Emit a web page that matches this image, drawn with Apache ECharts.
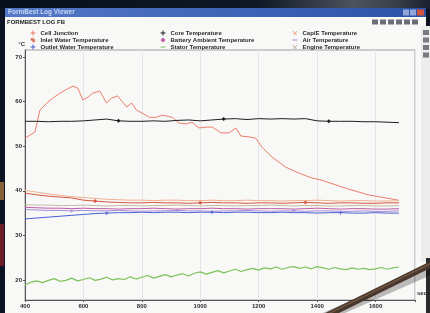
<!DOCTYPE html>
<html>
<head>
<meta charset="utf-8">
<script src="https://cdn.jsdelivr.net/npm/echarts@6/dist/echarts.min.js"></script>
<style>
html,body{margin:0;padding:0;background:#0c1424;}
#c{width:430px;height:313px;filter:blur(0.55px);}
</style>
</head>
<body>
<div id="c"></div>
<script>
// ---- data ----
const xTicks = [400, 600, 800, 1000, 1200, 1400, 1600];
const yTicks = [20, 30, 40, 50, 60, 70];

const time40 = [400,440,480,520,560,600,640,680,720,760,800,840,880,920,960,1000,1040,1080,1120,1160,1200,1240,1280,1320,1360,1400,1440,1480,1520,1560,1600,1640,1680];
const time20 = [400,420,440,460,480,500,520,540,560,580,600,620,640,660,680,700,720,740,760,780,800,820,840,860,880,900,920,940,960,980,1000,1020,1040,1060,1080,1100,1120,1140,1160,1180,1200,1220,1240,1260,1280,1300,1320,1340,1360,1380,1400,1420,1440,1460,1480,1500,1520,1540,1560,1580,1600,1620,1640,1660,1680];

const junctionTime = [400,417,434,451,475,495,519,543,564,581,598,615,632,656,679,696,717,748,765,782,802,826,850,870,904,928,952,972,996,1020,1041,1071,1098,1122,1139,1167,1190,1211,1245,1293,1337,1381,1415,1497,1575,1678];
const junctionTemp = [51.8,52.5,53.2,58.1,59.7,60.8,61.9,62.8,63.5,63.0,60.4,61.0,61.9,62.4,59.7,60.8,61.3,58.8,59.7,58.1,57.4,56.5,56.5,57.0,56.5,55.2,55.0,55.4,54.1,54.3,54.3,53.0,53.0,54.1,52.3,52.1,51.8,49.8,47.6,45.3,44.0,42.9,42.4,40.6,39.1,37.9];

const coreTemp    = [55.6,55.6,55.5,55.6,55.6,55.7,55.9,56.1,55.7,55.6,55.6,55.7,55.6,55.8,55.9,55.7,55.9,56.1,56.2,56.0,56.2,56.1,56.2,56.1,56.2,55.7,55.6,55.6,55.6,55.5,55.5,55.4,55.3];
const inletTemp   = [39.5,39.1,38.8,38.6,38.4,37.9,37.7,37.5,37.4,37.3,37.3,37.4,37.3,37.3,37.2,37.3,37.4,37.3,37.3,37.2,37.3,37.3,37.2,37.3,37.4,37.3,37.2,37.3,37.3,37.2,37.2,37.3,37.3];
const capETemp    = [40.1,39.7,39.3,39.0,38.7,38.5,38.3,38.1,38.0,37.9,37.9,37.8,37.9,37.9,37.8,37.8,37.9,37.8,37.8,37.9,37.8,37.8,37.7,37.8,37.8,37.9,37.8,37.7,37.8,37.8,37.7,37.7,37.8];
const engineTemp  = [36.9,36.8,36.8,36.7,36.7,36.8,36.7,36.6,36.7,36.7,36.6,36.7,36.7,36.8,36.7,36.6,36.7,36.7,36.6,36.7,36.7,36.8,36.7,36.6,36.7,36.7,36.6,36.6,36.7,36.7,36.6,36.6,36.7];
const ambientTemp = [36.3,36.2,36.1,36.1,36.0,36.1,36.0,36.0,35.9,36.0,36.0,36.1,36.0,35.9,36.0,36.0,36.1,36.0,36.0,35.9,36.0,36.0,36.0,35.9,36.0,36.1,36.0,35.9,36.0,36.0,35.9,35.9,36.0];
const airTemp     = [35.8,35.7,35.6,35.6,35.5,35.6,35.5,35.5,35.6,35.5,35.4,35.5,35.5,35.6,35.5,35.5,35.4,35.5,35.5,35.6,35.5,35.4,35.5,35.5,35.4,35.5,35.5,35.4,35.4,35.5,35.4,35.4,35.5];
const outletTemp  = [33.7,33.9,34.1,34.3,34.5,34.7,34.9,35.0,35.1,35.1,35.2,35.1,35.2,35.2,35.1,35.2,35.2,35.1,35.2,35.2,35.1,35.1,35.2,35.1,35.1,35.0,35.1,35.1,35.0,35.0,35.1,35.0,35.0];
const waterTemp   = [18.9,19.5,19.8,19.4,19.9,20.3,19.7,19.9,20.4,19.8,20.1,20.5,19.9,20.2,20.6,20.0,20.3,20.1,20.7,20.2,20.6,21.0,20.4,20.8,21.2,20.7,21.1,21.4,20.9,21.5,21.8,21.3,21.7,22.1,21.6,22.0,22.4,21.9,22.3,22.6,22.2,22.7,22.5,22.9,22.4,22.8,23.0,22.6,22.9,22.5,23.0,22.7,22.4,22.8,22.5,22.3,22.7,22.4,22.6,22.3,22.5,22.8,22.4,22.7,22.9];

const coreMarks = [8, 17, 26];
const inletMarks = [6, 15, 24];
const airMarks = [4, 13, 23];
const outletMarks = [7, 16, 27];

const names = ['Cell Junction','Inlet Water Temperature','Outlet Water Temperature',
               'Core Temperature','Battery Ambient Temperature','Stator Temperature',
               'Cap/E Temperature','Air Temperature','Engine Temperature'];

// ---- build ----
const pair = (ts, vs) => ts.map((t, i) => [t, vs[i]]);
const plusPath = 'path://M0,2h5v1H0z M2,0h1v5H2z';

function lineSeries(name, ts, vs, color, marks, sym, width) {
  return {
    name, type: 'line', data: pair(ts, vs), color,
    symbol: sym || 'diamond',
    symbolSize: (v, p) => (marks && marks.indexOf(p.dataIndex) >= 0 ? 4 : 0),
    showSymbol: true,
    lineStyle: { width: width || 1, color }, itemStyle: { color },
    animation: false, silent: true
  };
}

const series = [
  lineSeries(names[0], junctionTime, junctionTemp, '#ec7d6c', null),
  lineSeries(names[1], time40, inletTemp, '#d4573e', inletMarks, 'diamond'),
  lineSeries(names[2], time40, outletTemp, '#4b5fd2', outletMarks, plusPath),
  lineSeries(names[3], time40, coreTemp, '#1e1e22', coreMarks, 'diamond'),
  lineSeries(names[4], time40, ambientTemp, '#c25aa8', null),
  lineSeries(names[5], time20, waterTemp, '#7cc35a', null, null, 1.2),
  lineSeries(names[6], time40, capETemp, '#f0b090', null),
  lineSeries(names[7], time40, airTemp, '#a58ad8', airMarks, plusPath),
  lineSeries(names[8], time40, engineTemp, '#c8b8a8', null)
];

const legendIcons = ['path://M0,2h5v1H0z M2,0h1v5H2z','path://M2,0h1v5H2z M0,2h5v1H0z M0.5,0.5l4,4l-0.7,0.7l-4,-4z','path://M0,2h5v1H0z M2,0h1v5H2z',
                     'path://M0,2h5v1H0z M2,0h1v5H2z','path://M2.5,0L5,2.5L2.5,5L0,2.5z','path://M0,2h5v1H0z',
                     'path://M0.5,0.5l4,4l-0.7,0.7l-4,-4z M4.5,0.5l0.7,0.7l-4,4l-0.7,-0.7z','path://M0,2h5v1H0z','path://M0.5,0.5l4,4l-0.7,0.7l-4,-4z M4.5,0.5l0.7,0.7l-4,4l-0.7,-0.7z'];

function legendCol(idx, left) {
  return {
    orient: 'vertical', left, top: 29.5, itemGap: 0, itemWidth: 5, itemHeight: 5,
    selectedMode: false, padding: 0,
    data: idx.map(i => ({ name: names[i], icon: legendIcons[i] })),
    textStyle: { fontSize: 6, fontWeight: 'bold', color: '#2a2a2e', lineHeight: 7, padding: [0,0,0,0], fontFamily: 'Liberation Sans' },
    itemStyle: { borderWidth: 0 }
  };
}

const graphics = [
  { type: 'rect', z: -10, shape: { x: 0, y: 0, width: 430, height: 9 },
    style: { fill: new echarts.graphic.LinearGradient(0, 0, 1, 0, [
      { offset: 0, color: '#070f1b' }, { offset: 0.6, color: '#0f1826' },
      { offset: 0.82, color: '#4d525c' }, { offset: 0.92, color: '#3a3f48' }, { offset: 1, color: '#1a2030' }]) } },
  { type: 'rect', z: -10, shape: { x: 5, y: 8, width: 421, height: 310 }, style: { fill: '#f8f8f7' } },
  { type: 'rect', z: -9, shape: { x: 5, y: 8, width: 421, height: 9 },
    style: { fill: new echarts.graphic.LinearGradient(0, 0, 1, 0, [
      { offset: 0, color: '#5479c8' }, { offset: 1, color: '#2c52a8' }]) } },
  { type: 'text', z: -8, left: 8, top: 9, style: { text: 'FormBest Log Viewer', fontSize: 6.5, fontWeight: 'bold', fill: '#c9d8f4', fontFamily: 'Liberation Sans' } },
  { type: 'rect', z: -8, shape: { x: 403, y: 9.5, width: 6, height: 6 }, style: { fill: '#8ea6d8' } },
  { type: 'rect', z: -8, shape: { x: 410, y: 9.5, width: 6, height: 6 }, style: { fill: '#8ea6d8' } },
  { type: 'rect', z: -8, shape: { x: 417, y: 9.5, width: 7, height: 6 }, style: { fill: '#d0523f' } },
  { type: 'text', z: -8, left: 7, top: 19, style: { text: 'FORMBEST LOG FB', fontSize: 6, fontWeight: 'bold', fill: '#1c1c20', fontFamily: 'Liberation Sans' } },
  ...[0,1,2,3,4,5].map(i => ({ type: 'rect', z: -8, shape: { x: 372 + i * 8, y: 19.5, width: 6, height: 5 }, style: { fill: '#6a6e78' } })),
  { type: 'rect', z: -8, shape: { x: 421, y: 26, width: 9, height: 236 }, style: { fill: '#ececed' } },
  ...[0,1,2,3].map(i => ({ type: 'rect', z: -7, shape: { x: 423, y: 30 + i * 7.5, width: 6, height: 5 }, style: { fill: '#777a80' } })),
  { type: 'rect', z: -8, shape: { x: 426, y: 258, width: 4, height: 60 }, style: { fill: '#2a2a2c' } },
  { type: 'rect', z: -8, shape: { x: 0, y: 8, width: 5, height: 305 }, style: { fill: '#0c1424' } },
  { type: 'rect', z: -7, shape: { x: 0, y: 182, width: 4, height: 18 }, style: { fill: '#8a6238' } },
  { type: 'rect', z: -7, shape: { x: 0, y: 224, width: 4, height: 42 }, style: { fill: '#6e1d26' } },
  { type: 'line', z: 100, shape: { x1: 318, y1: 320, x2: 436, y2: 268 }, style: { stroke: 'rgba(0,0,0,0.25)', lineWidth: 9 } },
  { type: 'line', z: 101, shape: { x1: 322, y1: 318, x2: 436, y2: 262 }, style: { stroke: '#4a372b', lineWidth: 6 } },
  { type: 'line', z: 102, shape: { x1: 324, y1: 316, x2: 436, y2: 261 }, style: { stroke: '#6e5646', lineWidth: 1.5 } }
];

const chart = echarts.init(document.getElementById('c'), null, { renderer: 'canvas' });
chart.setOption({
  backgroundColor: '#0c1424',
  animation: false,
  graphic: graphics,
  legend: [legendCol([0,1,2], 30.5), legendCol([3,4,5], 160.5), legendCol([6,7,8], 292.5)],
  grid: { left: 25, right: 13, top: 50, bottom: 13, show: true, borderColor: '#a0a0a4', borderWidth: 1, backgroundColor: 'transparent' },
  xAxis: {
    type: 'value', min: 400, max: 1735, interval: 200,
    name: 'sec', nameLocation: 'end', nameGap: 2,
    nameTextStyle: { fontSize: 6, fontWeight: 'bold', color: '#333', verticalAlign: 'bottom', padding: [0,0,4,0] },
    axisLine: { show: true, lineStyle: { color: '#555', width: 1 } },
    axisTick: { show: true, length: 2, lineStyle: { color: '#555' } },
    axisLabel: { fontSize: 6, fontWeight: 'bold', color: '#2a2a2e', margin: 3, fontFamily: 'Liberation Sans',
      customValues: xTicks, formatter: v => String(v) },
    splitLine: { show: true, lineStyle: { color: '#e6e6e8', width: 1 } }
  },
  yAxis: {
    type: 'value', min: 15.5, max: 71.6,
    name: '°C', nameLocation: 'end', nameGap: 3,
    nameTextStyle: { fontSize: 6, fontWeight: 'bold', color: '#333', align: 'right' },
    axisLine: { show: true, lineStyle: { color: '#555', width: 1 } },
    axisTick: { show: true, length: 2, lineStyle: { color: '#555' }, customValues: yTicks },
    axisLabel: { fontSize: 6, fontWeight: 'bold', color: '#2a2a2e', margin: 3, fontFamily: 'Liberation Sans', customValues: yTicks },
    splitLine: { show: false }
  },
  series
});
</script>
</body>
</html>
